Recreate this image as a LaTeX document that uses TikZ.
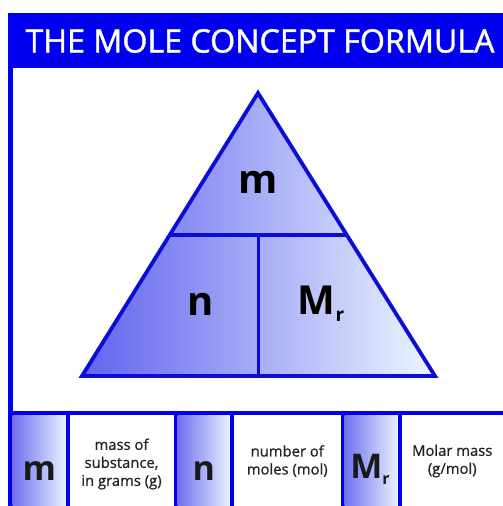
\documentclass[tikz,border=0pt]{standalone}
\usepackage{fontspec}
\setmainfont{Open Sans}
\newfontfamily\semifont[FakeBold=1.4]{Open Sans}
\newfontfamily\lightsemi[FakeBold=0.8]{Open Sans}
\definecolor{hdr}{RGB}{0,0,238}
\definecolor{edge}{RGB}{12,12,215}
\definecolor{gl}{RGB}{98,98,238}
\definecolor{gr}{RGB}{236,247,255}
\definecolor{cl}{RGB}{112,112,240}
\definecolor{cr}{RGB}{232,242,255}
\definecolor{txt}{RGB}{35,35,35}
\tikzset{
  bigsym/.style={font=\fontsize{40}{42}\selectfont\bfseries, text=black, inner sep=0pt},
  cellsym/.style={font=\fontsize{34}{36}\selectfont\bfseries, text=black!90, inner sep=0pt},
  symcell/.style={left color=cl, right color=cr, draw=none, inner sep=0pt, minimum height=91pt},
  desccell/.style={fill=white, draw=none, inner sep=0pt, minimum height=91pt, align=center,
     font=\lightsemi\fontsize{14.8}{18}\selectfont, text=txt},
  bar/.style={fill=hdr, draw=none}
}
\begin{document}
\begin{tikzpicture}[x=1pt,y=-1pt]
\useasboundingbox (0,0) rectangle (503,506);
\fill[white] (0,0) rectangle (503,506);
% header
\fill[hdr] (8,13) rectangle (503,68);
\node[text=white, font=\semifont\fontsize{32.2}{34}\selectfont, inner sep=0pt] (title) at (260,41) {THE MOLE CONCEPT FORMULA};
% left border and separator
\fill[bar] (8,68) rectangle (12.5,506);
\fill[bar] (8,411) rectangle (503,415);
% triangle
\coordinate (A) at (258,93);
\coordinate (BL) at (82,376);
\coordinate (BR) at (435,376);
\coordinate (HL) at (169.7,235);
\coordinate (HR) at (346.8,235);
\coordinate (VT) at (258.5,235);
\coordinate (VB) at (258.5,376);
\shade[left color=gl, right color=gr] (A) -- (BL) -- (BR) -- cycle;
\draw[edge, line width=3.8pt, line join=miter] (A) -- (BL) -- (BR) -- cycle;
\draw[edge, line width=3.4pt] (HL) -- (HR);
\draw[edge, line width=3.4pt] (VT) -- (VB);
\node[bigsym] (tm) at (258,182) {m};
\node[bigsym] (tn) at (201,304) {n};
\node[bigsym] (tM) at (321,304) {M\raisebox{-7pt}{\fontsize{19}{19}\selectfont r}};
% bottom cells
\node[symcell, minimum width=53.5pt] (cm) at (39.25,460.5) {};
\node[cellsym] at (39.25,471) {m};
\fill[bar] (66,415) rectangle (70,506);
\node[desccell, minimum width=103pt] (dm) at (121.5,464) {mass of\\substance,\\in grams (g)};
\fill[bar] (173.5,415) rectangle (177.5,506);
\node[symcell, minimum width=52.5pt] (cn) at (203.75,460.5) {};
\node[cellsym] at (203.75,471) {n};
\fill[bar] (230,415) rectangle (234,506);
\node[desccell, minimum width=106.5pt] (dn) at (287.25,461) {number of\\moles (mol)};
\fill[bar] (340.5,415) rectangle (344.5,506);
\node[symcell, minimum width=53pt] (cM) at (371,460.5) {};
\node[cellsym] at (370,469) {M\raisebox{-6pt}{\fontsize{16}{16}\selectfont r}};
\fill[bar] (397.5,415) rectangle (401.5,506);
\node[desccell, minimum width=101.5pt] (dM) at (452.25,461) {Molar mass\\(g/mol)};
\end{tikzpicture}
\end{document}
